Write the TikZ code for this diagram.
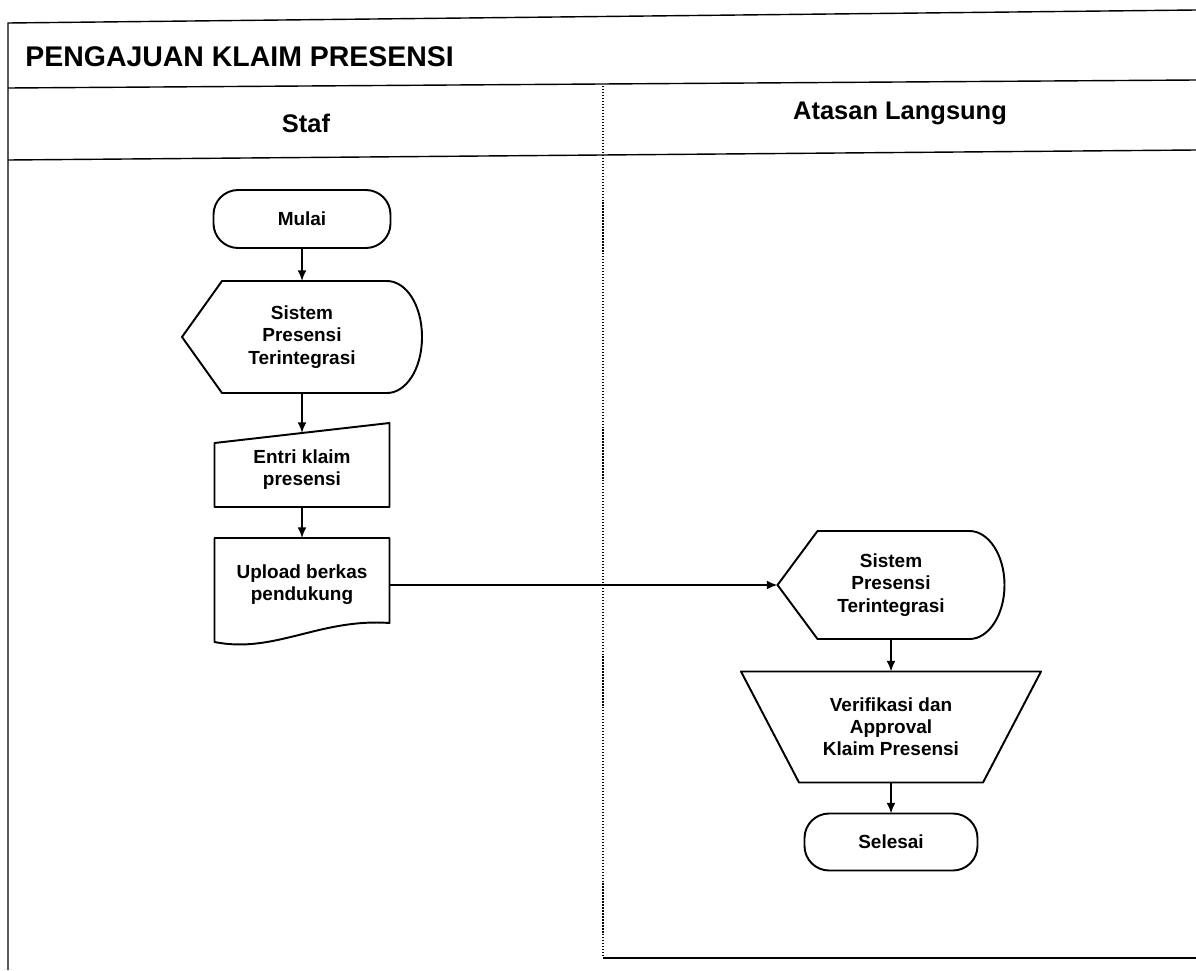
\documentclass[tikz,border=0pt]{standalone}
\usepackage{fontspec}
\setmainfont{Liberation Sans}
\usetikzlibrary{arrows.meta,calc}
\def\pxu{0.02cm}
\tikzstyle{frame}=[draw,line width=0.8pt]
\tikzstyle{lane}=[draw,line width=0.7pt,densely dotted]
\tikzstyle{heading}=[inner sep=0pt,font=\fontsize{14.5}{17}\selectfont\bfseries]
\tikzstyle{box}=[inner sep=0pt,outer sep=0pt,align=center,font=\fontsize{10.8}{12.6}\selectfont\bfseries]
\tikzstyle{terminal}=[box,draw,line width=1.1pt,rounded corners=14pt]
\tikzstyle{shapeline}=[draw,line width=1.1pt,line join=round]
\tikzstyle{flow}=[draw,line width=1pt,-{Latex[length=6pt,width=5pt]}]

\begin{document}
\begin{tikzpicture}[x=\pxu,y=-\pxu]
    \useasboundingbox (0,0) rectangle (1196,970);
    % Swimlane frame
    \path[frame] (8,970) -- (8,23) -- (1196,10);
    \path[frame] (8,88) -- (1196,80);
    \path[frame] (8,160) -- (1196,150);
    \path[frame] (603,958) -- (1196,958);
    \path[lane] (603,86) -- (603,958);
    \node[anchor=west,inner sep=0pt,font=\fontsize{16.2}{19}\selectfont\bfseries] (title) at (25,57) {PENGAJUAN KLAIM PRESENSI};
    \node[heading] (staf) at (306,123) {Staf};
    \node[heading] (atasan) at (900,113) {Atasan Langsung};
    % Flowchart nodes
    \node[terminal,minimum width=177*\pxu,minimum height=58*\pxu] (mulai) at (302,219) {Mulai};
    \node[box,minimum width=240*\pxu,minimum height=112*\pxu] (disp1) at (302,337) {Sistem\\Presensi\\Terintegrasi};
    \node[box,minimum width=175*\pxu,minimum height=74*\pxu] (entri) at (302,470) {Entri klaim\\presensi};
    \node[box,minimum width=175*\pxu,minimum height=94*\pxu] (upload) at (302,585) {Upload berkas\\pendukung};
    \node[box,minimum width=227*\pxu,minimum height=108*\pxu] (disp2) at (891,585) {Sistem\\Presensi\\Terintegrasi};
    \node[box,minimum width=300*\pxu,minimum height=111*\pxu] (verif) at (891,727) {Verifikasi dan\\Approval\\Klaim Presensi};
    \node[terminal,minimum width=173*\pxu,minimum height=57*\pxu] (selesai) at (891,842) {Selesai};
    % Outlines of the special shapes
    \foreach \d in {disp1,disp2}
        \path[shapeline] (\d.west) -- ($(\d.north west)+(40,0)$) -- ($(\d.north east)+(-35,0)$)
            .. controls ($(\d.north east)+(-16,0)$) and ($(\d.north east)+(0,24)$) .. (\d.east)
            .. controls ($(\d.south east)+(0,-24)$) and ($(\d.south east)+(-16,0)$) .. ($(\d.south east)+(-35,0)$)
            -- ($(\d.south west)+(40,0)$) -- cycle;
    \path[shapeline] (entri.south west) -- (entri.south east) -- ($(entri.north east)+(0,-10)$) -- ($(entri.north west)+(0,10)$) -- cycle;
    \path[shapeline] ($(upload.south west)+(0,10)$) -- (upload.north west) -- (upload.north east) -- ($(upload.south east)+(0,-9)$)
        .. controls ($(upload.south east)+(-70,-14)$) and ($(upload.south west)+(60,22)$) .. ($(upload.south west)+(0,10)$) -- cycle;
    \path[shapeline] (verif.north west) -- (verif.north east) -- ($(verif.south east)+(-58,0)$) -- ($(verif.south west)+(58,0)$) -- cycle;
    % Connect nodes with arrows
    \foreach \source/\dest in {mulai/disp1, disp1/entri, entri/upload, disp2/verif, verif/selesai}
        \path[flow] (\source.south) -- (\dest.north);
    \path[flow] (upload.east) -- (disp2.west);
\end{tikzpicture}
\end{document}
